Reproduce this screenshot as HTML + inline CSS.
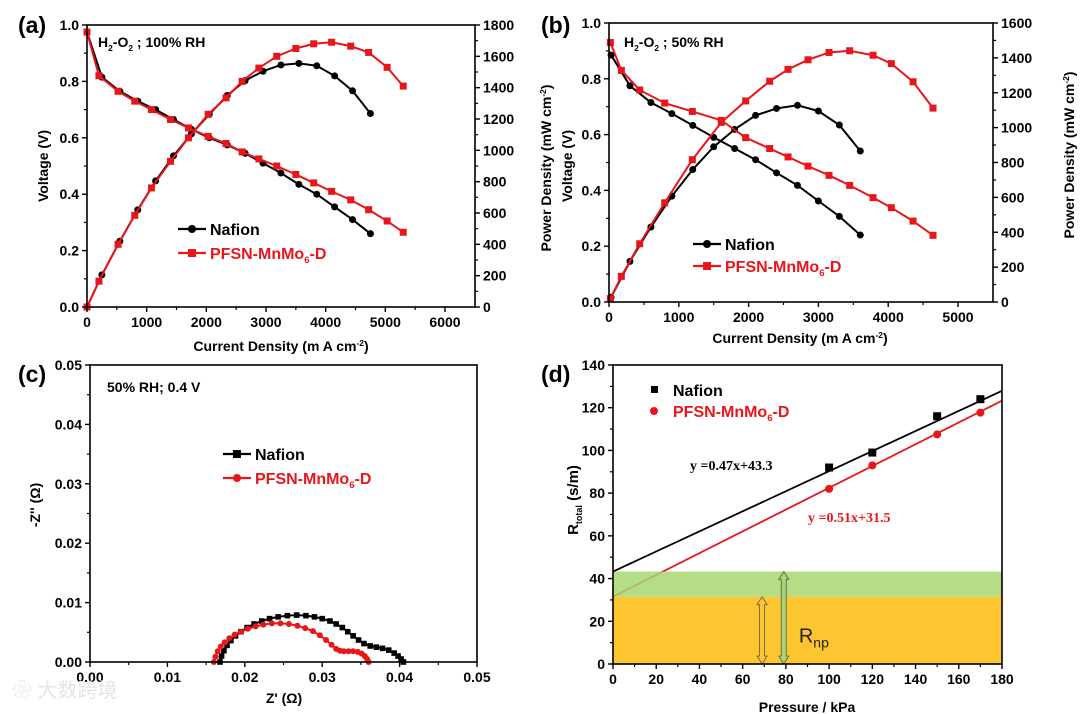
<!DOCTYPE html>
<html><head><meta charset="utf-8"><style>
html,body{margin:0;padding:0;background:#fff;}
svg{display:block;font-family:"Liberation Sans",Arial,sans-serif;}
</style></head><body>
<svg id="fig" width="1080" height="714" viewBox="0 0 1080 714" xmlns="http://www.w3.org/2000/svg"></svg>
<script>
// ---- Panel (a) data ----
const aNafI = [0,250,550,850,1150,1450,1750,2050,2350,2650,2950,3250,3550,3850,4150,4450,4750];
const aNafV = [0.975,0.815,0.765,0.73,0.70,0.665,0.63,0.60,0.575,0.545,0.51,0.475,0.435,0.40,0.355,0.31,0.26];
const aNafP = [0,205,420,620,805,965,1105,1230,1350,1445,1505,1545,1555,1540,1475,1380,1235];
const aPfI = [0,200,520,800,1080,1400,1700,2030,2330,2600,2880,3180,3500,3800,4100,4420,4720,5030,5300];
const aPfV = [0.975,0.82,0.765,0.73,0.70,0.665,0.635,0.605,0.58,0.55,0.525,0.50,0.47,0.44,0.41,0.38,0.345,0.305,0.265];
const aPfP = [0,165,400,585,760,930,1080,1230,1335,1440,1525,1600,1650,1680,1690,1665,1625,1530,1410];
const aXTicks = [0,1000,2000,3000,4000,5000,6000];
const aYTicks = [0,0.2,0.4,0.6,0.8,1.0];
const aY2Ticks = [0,200,400,600,800,1000,1200,1400,1600,1800];
// ---- Panel (b) data ----
const bNafI = [30,300,600,900,1200,1500,1800,2100,2400,2700,3000,3300,3600];
const bNafV = [0.885,0.775,0.715,0.675,0.633,0.59,0.55,0.51,0.463,0.418,0.362,0.307,0.24];
const bNafP = [27,233,430,607,760,890,990,1070,1110,1128,1095,1015,866];
const bPfI = [20,177,440,798,1194,1609,1958,2302,2565,2851,3152,3448,3783,4045,4356,4642];
const bPfV = [0.93,0.83,0.76,0.713,0.683,0.651,0.589,0.55,0.52,0.487,0.454,0.418,0.374,0.338,0.29,0.239];
const bPfP = [19,147,334,569,816,1030,1153,1266,1334,1389,1431,1441,1415,1367,1263,1112];
const bXTicks = [0,1000,2000,3000,4000,5000];
const bYTicks = [0,0.2,0.4,0.6,0.8,1.0];
const bY2Ticks = [0,200,400,600,800,1000,1200,1400,1600];
// ---- Panel (c) data ----
const cNafX = [.0168,.0170,.0173,.0177,.0182,.0188,.0195,.0203,.0212,.0222,.0232,.0243,.0255,.0267,.0279,.0290,.0300,.0310,.0318,.0326,.0333,.0340,.0347,.0354,.0362,.0370,.0378,.0386,.0393,.0398,.0402,.0405];
const cNafY = [0,.0010,.0019,.0028,.0036,.0044,.0051,.0058,.0064,.0069,.0073,.0076,.0078,.0079,.0078,.0076,.0073,.0069,.0064,.0058,.0051,.0044,.0037,.0031,.0027,.0025,.0023,.0020,.0015,.0010,.0005,0];
const cPfX = [.0160,.0162,.0165,.0169,.0174,.0180,.0187,.0195,.0204,.0214,.0224,.0235,.0246,.0257,.0268,.0278,.0288,.0297,.0305,.0312,.0318,.0323,.0328,.0334,.0340,.0346,.0351,.0355,.0358,.0360];
const cPfY = [0,.0009,.0018,.0026,.0033,.0040,.0046,.0051,.0056,.0060,.0063,.0065,.0065,.0064,.0061,.0057,.0052,.0045,.0037,.0029,.0022,.0019,.0018,.0018,.0018,.0017,.0014,.0010,.0005,0];
const cXTicks = [0,0.01,0.02,0.03,0.04,0.05];
const cYTicks = [0,0.01,0.02,0.03,0.04,0.05];
// ---- Panel (d) data ----
const dP = [100,120,150,170];
const dNaf = [92,99,116,124];
const dPf = [82,93,107.5,117.7];
const dNafFit = [0.47,43.3];
const dPfFit = [0.51,31.5];
const dXTicks = [0,20,40,60,80,100,120,140,160,180];
const dYTicks = [0,20,40,60,80,100,120,140];

const NS="http://www.w3.org/2000/svg";
const svg=document.getElementById('fig');
function el(tag,attrs,parent,text){const e=document.createElementNS(NS,tag);for(const k in attrs)e.setAttribute(k,attrs[k]);if(text!==undefined)e.textContent=text;(parent||svg).appendChild(e);return e;}
function lin(d0,d1,p0,p1){return v=>p0+(v-d0)/(d1-d0)*(p1-p0);}
function fmt(v,dec){return v.toFixed(dec);}

function frame(g,L,T,R,B){
  const r=el('rect',{x:L,y:T,width:R-L,height:B-T,fill:'none',stroke:'#000','stroke-width':1.6},g);
  
  
}
function xAxis(g,sx,ticks,B,dec,minor){
  ticks.forEach((t,i)=>{
    const x=sx(t);
    el('line',{x1:x,y1:B,x2:x,y2:B+5,stroke:'#000','stroke-width':1.4},g);
    const tx=el('text',{x:x,y:B+20,'font-size':14,'font-weight':'bold','text-anchor':'middle'},g,fmt(t,dec));
    
    
    if(minor&&i<ticks.length-1){const xm=sx((t+ticks[i+1])/2);el('line',{x1:xm,y1:B,x2:xm,y2:B+3,stroke:'#000','stroke-width':1.2},g);}
  });
}
function yAxis(g,sy,ticks,L,dec,right){
  const s=right?1:-1;
  ticks.forEach((t,i)=>{
    const y=sy(t);
    el('line',{x1:L,y1:y,x2:L+s*5,y2:y,stroke:'#000','stroke-width':1.4},g);
    const tx=el('text',{x:L+s*8,y:y+5,'font-size':14,'font-weight':'bold','text-anchor':right?'start':'end'},g,fmt(t,dec));
    
    
    if(i<ticks.length-1){const ym=sy((t+ticks[i+1])/2);el('line',{x1:L,y1:ym,x2:L+s*3,y2:ym,stroke:'#000','stroke-width':1.2},g);}
  });
}
function series(g,xs,ys,sx,sy,color,marker,name,r,noLine){
  const pts=xs.map((x,i)=>[sx(x),sy(ys[i])]);
  if(!noLine){
    const pl=el('polyline',{points:pts.map(p=>p.join(',')).join(' '),fill:'none',stroke:color,'stroke-width':2},g);
    
    
  }
  pts.forEach(p=>{
    let m;
    if(marker==='sq') m=el('rect',{x:p[0]-r,y:p[1]-r,width:2*r,height:2*r,fill:color},g);
    else m=el('circle',{cx:p[0],cy:p[1],r:r,fill:color},g);
    
    
  });
}
function label(g,x,y,txt,size,name,extra){
  const t=el('text',Object.assign({x:x,y:y,'font-size':size,'font-weight':'bold'},extra||{}),g,txt);
  
  
  return t;
}
// parts: [text, dy, small]
function subText(g,x,y,parts,size,color,name,extra){
  const t=el('text',Object.assign({x:x,y:y,'font-size':size,'font-weight':'bold',fill:color},extra||{}),g);
  
  
  parts.forEach(p=>{
    const a={};
    if(p[1]) a.dy=p[1];
    if(p[2]) a['font-size']=size*0.6;
    el('tspan',a,t,p[0]);
  });
  return t;
}
function legendLine(g,x,y,color,marker,parts,name){
  el('line',{x1:x,y1:y,x2:x+28,y2:y,stroke:color,'stroke-width':2.2},g);
  if(marker==='sq') el('rect',{x:x+10,y:y-4,width:8,height:8,fill:color},g); else el('circle',{cx:x+14,cy:y,r:4,fill:color},g);
  subText(g,x+32,y+6,parts,16,color,name);
}
const PFSN=[['PFSN-MnMo'],['6',4,1],['-D',-4]];
const PD=[['Power Density (mW cm'],['-2',-5,1],[')',5]];

// ===== Panel a =====
(function(){
  const g=el('g',{});
  const L=87,R=475,T=25,B=307;
  const sx=lin(0,6000,L,445), sy=lin(0,1,B,T), sp=lin(0,1800,B,T);
  series(g,aNafI,aNafV,sx,sy,'#000','c','nafion-voltage',3.5);
  series(g,aNafI,aNafP,sx,sp,'#000','c','nafion-power',3.5);
  series(g,aPfI,aPfV,sx,sy,'#e8161b','sq','pfsn-voltage',3.5);
  series(g,aPfI,aPfP,sx,sp,'#e8161b','sq','pfsn-power',3.5);
  frame(g,L,T,R,B);
  xAxis(g,sx,aXTicks,B,0,true);
  yAxis(g,sy,aYTicks,L,1,false);
  yAxis(g,sp,aY2Ticks,R,0,true);
  label(g,18,33,'(a)',23,'panel-label-a');
  subText(g,98,47,[['H'],['2',4,1],['-O',-4],['2',4,1],[' ; 100% RH',-4]],14,'#000','condition-annotation');
  subText(g,281,351,[['Current Density (m A cm'],['-2',-5,1],[')',5]],14,'#000','x-axis-title',{'text-anchor':'middle'});
  label(g,0,0,'Voltage (V)',14,'y-axis-title',{transform:'translate(48,166) rotate(-90)','text-anchor':'middle'});
  subText(g,0,0,PD,14,'#000','y2-axis-title',{transform:'translate(551,168) rotate(-90)','text-anchor':'middle'});
  legendLine(g,178,229,'#000','c',[['Nafion']],'legend-nafion');
  legendLine(g,178,253,'#e8161b','sq',PFSN,'legend-pfsn');
})();

// ===== Panel b =====
(function(){
  const g=el('g',{});
  const L=609,R=993,T=23,B=302;
  const sx=lin(0,5000,L,958), sy=lin(0,1,B,T), sp=lin(0,1600,B,T);
  series(g,bNafI,bNafV,sx,sy,'#000','c','nafion-voltage',3.5);
  series(g,bNafI,bNafP,sx,sp,'#000','c','nafion-power',3.5);
  series(g,bPfI,bPfV,sx,sy,'#e8161b','sq','pfsn-voltage',3.5);
  series(g,bPfI,bPfP,sx,sp,'#e8161b','sq','pfsn-power',3.5);
  frame(g,L,T,R,B);
  xAxis(g,sx,bXTicks,B,0,true);
  yAxis(g,sy,bYTicks,L,1,false);
  yAxis(g,sp,bY2Ticks,R,0,true);
  label(g,541,33,'(b)',23,'panel-label-b');
  subText(g,624,47,[['H'],['2',4,1],['-O',-4],['2',4,1],[' ; 50% RH',-4]],14,'#000','condition-annotation');
  subText(g,800,343,[['Current Density (m A cm'],['-2',-5,1],[')',5]],14,'#000','x-axis-title',{'text-anchor':'middle'});
  label(g,0,0,'Voltage (V)',14,'y-axis-title',{transform:'translate(572,166) rotate(-90)','text-anchor':'middle'});
  subText(g,0,0,PD,14,'#000','y2-axis-title',{transform:'translate(1074,155) rotate(-90)','text-anchor':'middle'});
  legendLine(g,693,244,'#000','c',[['Nafion']],'legend-nafion');
  legendLine(g,693,266,'#e8161b','sq',PFSN,'legend-pfsn');
})();

// ===== Panel c =====
(function(){
  const g=el('g',{});
  const L=90,R=477,T=365,B=662;
  const sx=lin(0,0.05,L,R), sy=lin(0,0.05,B,T);
  series(g,cNafX,cNafY,sx,sy,'#000','sq','nafion-impedance',2.8);
  series(g,cPfX,cPfY,sx,sy,'#e8161b','c','pfsn-impedance',3);
  frame(g,L,T,R,B);
  xAxis(g,sx,cXTicks,B,2,true);
  yAxis(g,sy,cYTicks,L,2,false);
  label(g,18,382,'(c)',23,'panel-label-c');
  label(g,107,392,'50% RH; 0.4 V',14,'condition-annotation');
  label(g,284,703,'Z\' (\u03A9)',14,'x-axis-title',{'text-anchor':'middle'});
  label(g,0,0,'-Z\'\' (\u03A9)',14,'y-axis-title',{transform:'translate(40,505) rotate(-90)','text-anchor':'middle'});
  legendLine(g,223,454,'#000','sq',[['Nafion']],'legend-nafion');
  legendLine(g,223,478,'#e8161b','c',PFSN,'legend-pfsn');
  const w=el('text',{x:12,y:697,'font-size':20,fill:'#e4e4e4','font-family':'"Liberation Sans","Noto Sans CJK SC",sans-serif'},g,'\u2740 大数跨境');
  
})();

// ===== Panel d =====
(function(){
  const g=el('g',{});
  const L=613,R=1002,T=365,B=664;
  const sx=lin(0,180,L,R), sy=lin(0,140,B,T);
  const f=(c,x)=>c[0]*x+c[1];
  const rl=el('line',{x1:sx(0),y1:sy(f(dPfFit,0)),x2:sx(180),y2:sy(f(dPfFit,180)),stroke:'#e8161b','stroke-width':1.8},g);
  
  const gb=el('rect',{x:L,y:sy(dNafFit[1]),width:R-L,height:sy(dPfFit[1])-sy(dNafFit[1]),fill:'#a8d672',opacity:0.85},g);
  
  const ob=el('rect',{x:L,y:sy(dPfFit[1]),width:R-L,height:B-sy(dPfFit[1]),fill:'#fdc630'},g);
  
  const bl=el('line',{x1:sx(0),y1:sy(f(dNafFit,0)),x2:sx(180),y2:sy(f(dNafFit,180)),stroke:'#000','stroke-width':1.8},g);
  
  series(g,dP,dNaf,sx,sy,'#000','sq','nafion-rtotal',4,true);
  series(g,dP,dPf,sx,sy,'#e8161b','c','pfsn-rtotal',4,true);
  function arrow(x,top,fill,name){
    const X=sx(x),y1=sy(top),y2=B;
    const p=el('path',{d:`M${X},${y1} L${X+5},${y1+8} L${X+2.5},${y1+8} L${X+2.5},${y2-8} L${X+5},${y2-8} L${X},${y2} L${X-5},${y2-8} L${X-2.5},${y2-8} L${X-2.5},${y1+8} L${X-5},${y1+8} Z`,fill:fill,stroke:'#555','stroke-width':0.8},g);
    
  }
  arrow(69,dPfFit[1],'#fdc630','pfsn-rnp-arrow');
  arrow(79,dNafFit[1],'#a8d672','nafion-rnp-arrow');
  const rt=el('text',{x:sx(86),y:sy(10),'font-size':20,fill:'#222'},g);
  
  el('tspan',{},rt,'R');el('tspan',{'font-size':14,dy:5},rt,'np');
  frame(g,L,T,R,B);
  xAxis(g,sx,dXTicks,B,0,true);
  yAxis(g,sy,dYTicks,L,0,false);
  label(g,541,382,'(d)',23,'panel-label-d');
  label(g,807,712,'Pressure / kPa',14,'x-axis-title',{'text-anchor':'middle'});
  subText(g,0,0,[['R'],['total',4,1],[' (s/m)',-4]],15,'#000','y-axis-title',{transform:'translate(578,500) rotate(-90)','text-anchor':'middle'});
  const e1=el('text',{x:690,y:470,'font-size':14,'font-weight':'bold','font-family':'"Liberation Serif",serif'},g,'y =0.47x+43.3');
  
  const e2=el('text',{x:808,y:522,'font-size':14,'font-weight':'bold',fill:'#e8161b','font-family':'"Liberation Serif",serif'},g,'y =0.51x+31.5');
  
  el('rect',{x:651,y:386,width:7,height:7,fill:'#000'},g);
  subText(g,673,396,[['Nafion']],16,'#000','legend-nafion');
  el('circle',{cx:654,cy:411,r:4,fill:'#e8161b'},g);
  subText(g,673,417,PFSN,16,'#e8161b','legend-pfsn');
})();
</script>
</body></html>
